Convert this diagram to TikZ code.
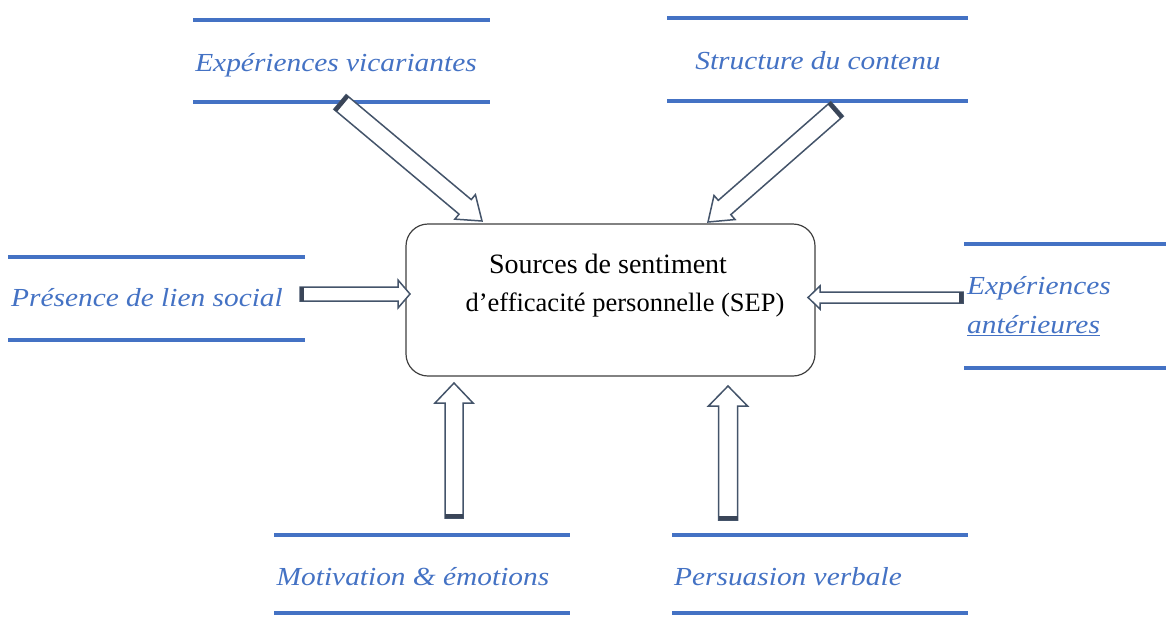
\documentclass[tikz,border=0pt]{standalone}
\usepackage{fontspec}
\setmainfont{Liberation Serif}
\newfontfamily\labfont[FakeStretch=1.13]{Liberation Serif}
\usetikzlibrary{calc}
\definecolor{lblue}{HTML}{4472C4}
\definecolor{arrline}{HTML}{44546A}
\definecolor{capcol}{HTML}{3A4558}
\definecolor{boxline}{HTML}{404040}
\tikzset{
  blueline/.style={draw=lblue, line width=4pt},
  lab/.style={text=lblue, font=\labfont\itshape\fontsize{26}{30}\selectfont, inner sep=0pt},
  blockarrow/.style={draw=arrline, fill=white, line width=1.5pt, line join=miter},
  arrowcap/.style={draw=capcol, line width=4pt},
  sepbox/.style={draw=boxline, line width=1.2pt, rounded corners=22pt, minimum width=409pt, minimum height=152pt},
  septext/.style={inner sep=0pt, text=black, anchor=base}
}
\newcommand\blkarrow[5]{%
  \path ($(#2)!#5!(#1)$) coordinate (hb) ($(#1)!2pt!(#2)$) coordinate (tc);
  \filldraw[blockarrow] ($(#1)!#3!90:(#2)$) -- ($(hb)!#3!90:(#2)$) -- ($(hb)!#4!90:(#2)$) -- (#2)
    -- ($(hb)!#4!-90:(#2)$) -- ($(hb)!#3!-90:(#2)$) -- ($(#1)!#3!-90:(#2)$) -- cycle;
  \draw[arrowcap] ($(tc)!#3!90:(#2)$) -- ($(tc)!#3!-90:(#2)$);
}
\begin{document}
\begin{tikzpicture}[x=1pt,y=-1pt]
\useasboundingbox[fill=white] (0,0) rectangle (1166,616);
% label lines
\draw[blueline] (193,20) -- (490,20) (193,102) -- (490,102);
\draw[blueline] (667,18) -- (968,18) (667,101) -- (968,101);
\draw[blueline] (8,257) -- (305,257) (8,340) -- (305,340);
\draw[blueline] (964,244) -- (1166,244) (964,368) -- (1166,368);
\draw[blueline] (274,535) -- (570,535) (274,613) -- (570,613);
\draw[blueline] (672,535) -- (968,535) (672,613) -- (968,613);
% labels
\node[lab, anchor=base] (vic) at (336,71) {Expériences vicariantes};
\node[lab, anchor=base] (str) at (818,69) {Structure du contenu};
\node[lab, anchor=base] (pre) at (147,306) {Présence de lien social};
\node[lab, anchor=base west] (ant1) at (967,294) {Expériences};
\node[lab, anchor=base west] (ant2) at (967,333) {\underline{antérieures}};
\node[lab, anchor=base] (mot) at (413,585) {Motivation \& émotions};
\node[lab, anchor=base] (per) at (788,585) {Persuasion verbale};
% central box
\node[sepbox] (sep) at (610.5,300) {};
\node[septext, font=\fontsize{28}{34}\selectfont] (sep1) at (608,273) {Sources de sentiment};
\node[septext, font=\fontsize{26.5}{34}\selectfont] (sep2) at (625,311) {d’efficacité personnelle (SEP)};
% arrow end points
\coordinate (tlT) at (340,102); \coordinate (tlP) at (482,221);
\coordinate (trT) at (837,109); \coordinate (trP) at (708,222);
\coordinate (lT) at (300,294); \coordinate (lP) at (410,294);
\coordinate (rT) at (963,297.5); \coordinate (rP) at (808,297.5);
\coordinate (blT) at (454,518); \coordinate (blP) at (454,383);
\coordinate (brT) at (728,520); \coordinate (brP) at (728,386);
\blkarrow{tlT}{tlP}{9.5pt}{16pt}{22pt}
\blkarrow{trT}{trP}{9.5pt}{16pt}{22pt}
\blkarrow{lT}{lP}{7pt}{14pt}{12pt}
\blkarrow{rT}{rP}{5.5pt}{11.5pt}{12pt}
\blkarrow{blT}{blP}{9pt}{19pt}{20pt}
\blkarrow{brT}{brP}{9.5pt}{19.5pt}{20pt}
\end{tikzpicture}
\end{document}
